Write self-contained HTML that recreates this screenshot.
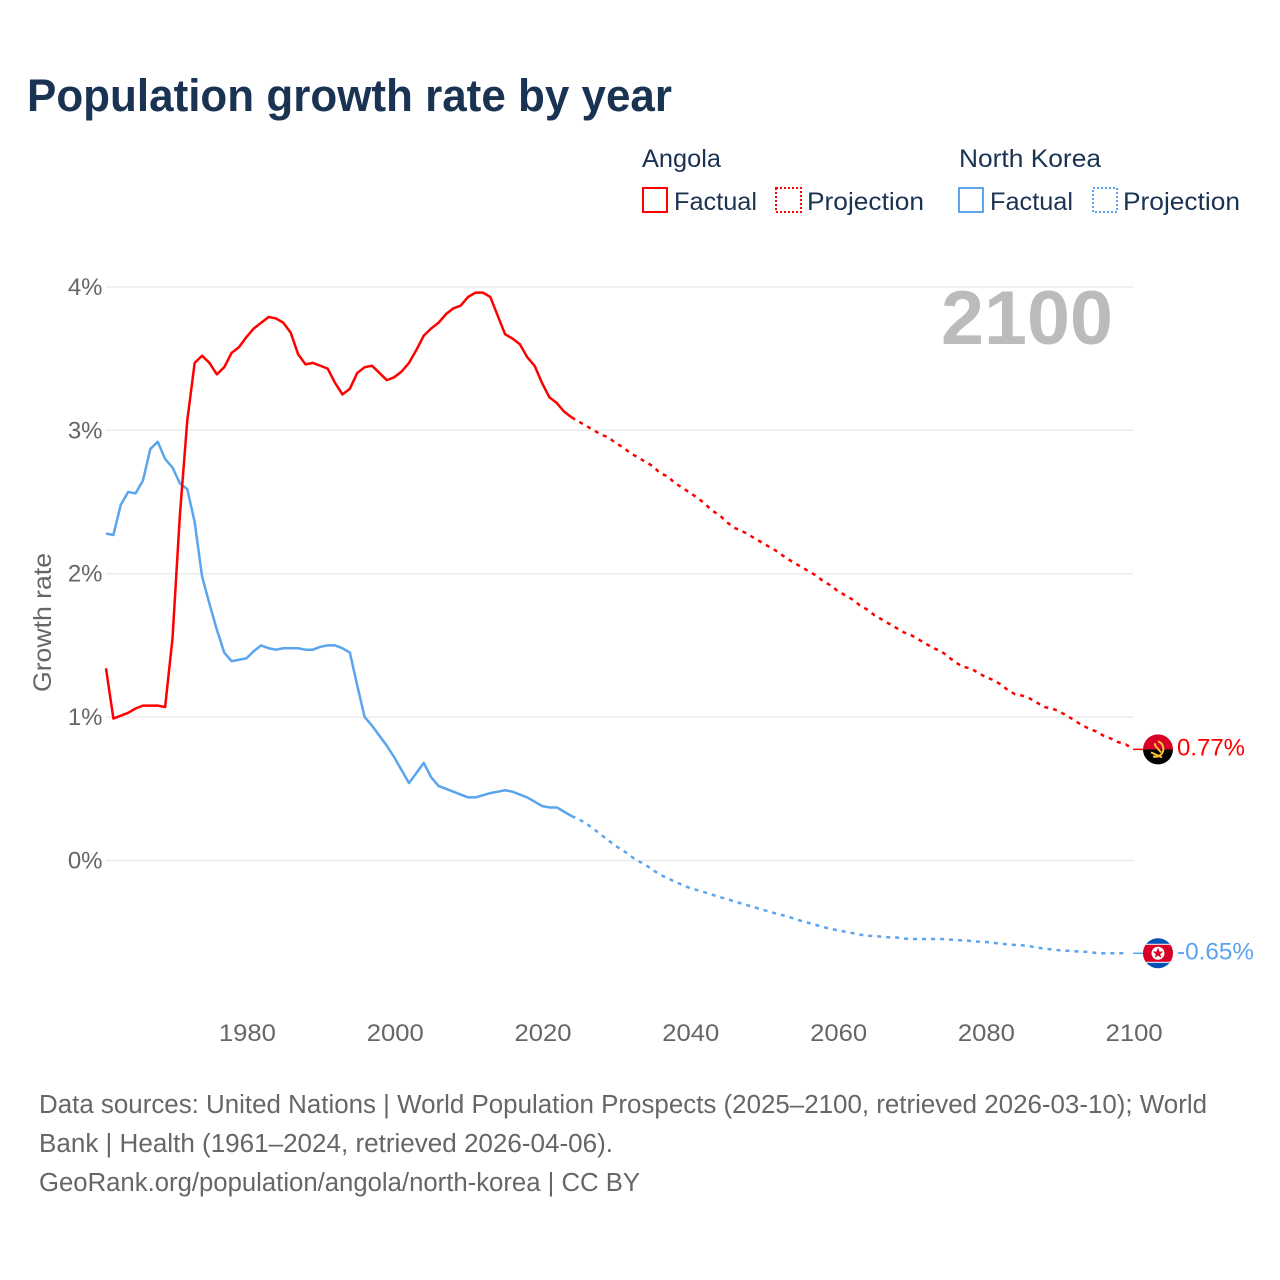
<!DOCTYPE html>
<html lang="en">
<head>
<meta charset="utf-8">
<title>Population growth rate by year</title>
<style>
html,body{margin:0;padding:0;background:#fff;width:1280px;height:1280px;overflow:hidden}
svg{display:block;font-family:"Liberation Sans",sans-serif}
</style>
</head>
<body>
<svg id="chart" xmlns="http://www.w3.org/2000/svg" width="1280" height="1280" viewBox="0 0 1280 1280">
  <rect x="0" y="0" width="1280" height="1280" fill="#fff"/>
  <text x="27" y="111" font-size="45" font-weight="700" fill="#1a3352" textLength="645" lengthAdjust="spacingAndGlyphs">Population growth rate by year</text>

  <g font-size="25" fill="#1a3352">
    <text x="642" y="167" textLength="79" lengthAdjust="spacingAndGlyphs">Angola</text>
    <text x="959" y="167" textLength="142" lengthAdjust="spacingAndGlyphs">North Korea</text>
    <rect x="643" y="188" width="24" height="24" fill="none" stroke="#ff0000" stroke-width="2"/>
    <text x="674" y="210" textLength="83" lengthAdjust="spacingAndGlyphs">Factual</text>
    <rect x="776" y="188" width="25" height="24" fill="none" stroke="#ff0000" stroke-width="2" stroke-dasharray="2 2"/>
    <text x="807" y="210" textLength="117" lengthAdjust="spacingAndGlyphs">Projection</text>
    <rect x="959" y="188" width="24" height="24" fill="none" stroke="#5ba4ee" stroke-width="2"/>
    <text x="990" y="210" textLength="83" lengthAdjust="spacingAndGlyphs">Factual</text>
    <rect x="1093" y="188" width="24" height="24" fill="none" stroke="#5ba4ee" stroke-width="2" stroke-dasharray="2 2"/>
    <text x="1123" y="210" textLength="117" lengthAdjust="spacingAndGlyphs">Projection</text>
  </g>

  <g id="grid"></g>
  <g id="yticks" font-size="24" fill="#666666" text-anchor="end"></g>
  <g id="xticks" font-size="24" fill="#666666" text-anchor="middle"></g>
  <text transform="translate(51,622.5) rotate(-90)" text-anchor="middle" font-size="25" fill="#666666" textLength="139" lengthAdjust="spacingAndGlyphs">Growth rate</text>
  <text x="941" y="344" font-size="76" font-weight="700" fill="#bbbbbb" textLength="172" lengthAdjust="spacingAndGlyphs">2100</text>

  <g id="series"></g>
  <g id="ends"></g>

  <g font-size="25.5" fill="#666666">
    <text x="39" y="1113" textLength="1168" lengthAdjust="spacingAndGlyphs">Data sources: United Nations | World Population Prospects (2025–2100, retrieved 2026-03-10); World</text>
    <text x="39" y="1152" textLength="574" lengthAdjust="spacingAndGlyphs">Bank | Health (1961–2024, retrieved 2026-04-06).</text>
    <text x="39" y="1191" textLength="601" lengthAdjust="spacingAndGlyphs">GeoRank.org/population/angola/north-korea | CC BY</text>
  </g>
</svg>
<script>
var firstYear = 1961;
var lastYear = 2100;
var projectionStartYear = 2024;

var xTickYears = [1980, 2000, 2020, 2040, 2060, 2080, 2100];
var yTickValues = [0, 1, 2, 3, 4];

var angolaFactual = [1.34,0.99,1.01,1.03,1.06,1.08,1.08,1.08,1.07,1.55,2.41,3.07,3.47,3.52,3.47,3.39,3.44,3.54,3.58,3.65,3.71,3.75,3.79,3.78,3.75,3.68,3.53,3.46,3.47,3.45,3.43,3.33,3.25,3.29,3.40,3.44,3.45,3.40,3.35,3.37,3.41,3.47,3.56,3.66,3.71,3.75,3.81,3.85,3.87,3.93,3.96,3.96,3.93,3.80,3.67,3.64,3.60,3.51,3.45,3.33,3.23,3.19,3.13,3.09];

var angolaProjection = [3.09,3.06,3.03,3.00,2.97,2.95,2.91,2.88,2.84,2.81,2.78,2.75,2.70,2.68,2.63,2.60,2.565,2.53,2.49,2.44,2.41,2.36,2.32,2.30,2.27,2.24,2.21,2.18,2.15,2.11,2.08,2.05,2.02,1.99,1.95,1.92,1.88,1.85,1.82,1.78,1.75,1.71,1.68,1.65,1.62,1.59,1.57,1.54,1.51,1.48,1.46,1.42,1.38,1.35,1.34,1.31,1.28,1.26,1.23,1.19,1.16,1.15,1.13,1.10,1.07,1.06,1.04,1.01,0.98,0.945,0.92,0.90,0.87,0.85,0.825,0.81,0.775];

var koreaFactual = [2.28,2.27,2.48,2.57,2.56,2.65,2.87,2.92,2.80,2.74,2.63,2.59,2.36,1.98,1.79,1.61,1.45,1.39,1.40,1.41,1.46,1.50,1.48,1.47,1.48,1.48,1.48,1.47,1.47,1.49,1.50,1.50,1.48,1.45,1.22,1.00,0.94,0.87,0.80,0.72,0.63,0.54,0.61,0.68,0.58,0.52,0.50,0.48,0.46,0.44,0.44,0.455,0.47,0.48,0.49,0.48,0.46,0.44,0.41,0.38,0.37,0.37,0.34,0.31];

var koreaProjection = [0.31,0.287,0.257,0.22,0.18,0.14,0.10,0.07,0.03,-0.003,-0.03,-0.066,-0.10,-0.124,-0.148,-0.17,-0.192,-0.206,-0.222,-0.238,-0.255,-0.268,-0.285,-0.30,-0.315,-0.33,-0.345,-0.36,-0.375,-0.387,-0.403,-0.42,-0.434,-0.448,-0.464,-0.475,-0.487,-0.496,-0.506,-0.517,-0.524,-0.527,-0.531,-0.536,-0.537,-0.545,-0.547,-0.547,-0.547,-0.547,-0.547,-0.55,-0.556,-0.556,-0.561,-0.566,-0.568,-0.573,-0.58,-0.585,-0.589,-0.591,-0.598,-0.607,-0.615,-0.62,-0.626,-0.629,-0.633,-0.636,-0.638,-0.645,-0.647,-0.647,-0.647,-0.647];

var endLabels = ["0.77%", "-0.65%"];

var NS = "http://www.w3.org/2000/svg";
function xScale(year) { return 106 + (year - firstYear) * (1133.2 - 106) / (lastYear - firstYear); }
function yScale(v) { return 860.5 - v * 143.4; }
function node(tag, parent) { var n = document.createElementNS(NS, tag); parent.appendChild(n); return n; }
function pathFrom(values, startYear) {
  return values.map(function (v, i) {
    return (i ? "L" : "M") + xScale(startYear + i).toFixed(2) + " " + yScale(v).toFixed(2);
  }).join("");
}

var gridG = document.getElementById("grid");
var yG = document.getElementById("yticks");
yTickValues.forEach(function (v) {
  var l = node("line", gridG);
  
  
  l.setAttribute("x1", xScale(firstYear));
  l.setAttribute("x2", xScale(lastYear));
  l.setAttribute("y1", yScale(v));
  l.setAttribute("y2", yScale(v));
  l.setAttribute("stroke", "#ebebeb");
  l.setAttribute("stroke-width", "1.5");
  var t = node("text", yG);
  
  
  t.setAttribute("x", 102.5);
  t.setAttribute("y", yScale(v) + 8);
  t.textContent = v + "%";
});

var xG = document.getElementById("xticks");
xTickYears.forEach(function (y) {
  var t = node("text", xG);
  
  
  t.setAttribute("x", xScale(y) + 1);
  t.setAttribute("y", 1041);
  t.setAttribute("textLength", "57");
  t.setAttribute("lengthAdjust", "spacingAndGlyphs");
  t.textContent = y;
});

var seriesG = document.getElementById("series");
function drawLine(name, values, startYear, color, dash) {
  var p = node("path", seriesG);
  
  
  p.setAttribute("d", pathFrom(values, startYear));
  p.setAttribute("fill", "none");
  p.setAttribute("stroke", color);
  p.setAttribute("stroke-width", "2.5");
  p.setAttribute("stroke-linejoin", "round");
  if (dash) p.setAttribute("stroke-dasharray", dash);
}
var RED = "#ff0000", BLUE = "#5ba4ee";
drawLine("line-korea-factual", koreaFactual, firstYear, BLUE);
drawLine("line-korea-projection", koreaProjection, projectionStartYear, BLUE, "4 5");
drawLine("line-angola-factual", angolaFactual, firstYear, RED);
drawLine("line-angola-projection", angolaProjection, projectionStartYear, RED, "4 5");

var endsG = document.getElementById("ends");
function drawEnd(key, value, color, labelText, drawFlag) {
  var y = yScale(value), x = xScale(lastYear), cx = 1158;
  var lead = node("line", endsG);
  
  
  lead.setAttribute("x1", x);
  lead.setAttribute("x2", cx - 15);
  lead.setAttribute("y1", y);
  lead.setAttribute("y2", y);
  lead.setAttribute("stroke", color);
  lead.setAttribute("stroke-width", "1.5");
  var g = node("g", endsG);
  
  
  g.setAttribute("transform", "translate(" + cx + " " + y + ")");
  var clip = node("clipPath", g);
  clip.setAttribute("id", "clip-" + key);
  var cc = node("circle", clip);
  cc.setAttribute("r", "15");
  var inner = node("g", g);
  inner.setAttribute("clip-path", "url(#clip-" + key + ")");
  inner.innerHTML = drawFlag;
  var t = node("text", endsG);
  
  
  t.setAttribute("x", 1177);
  t.setAttribute("y", y + 6);
  t.setAttribute("font-size", "24");
  t.setAttribute("fill", color);
  t.setAttribute("textLength", labelText.charAt(0) === "-" ? "77" : "68");
  t.setAttribute("lengthAdjust", "spacingAndGlyphs");
  t.textContent = labelText;
}
var angolaFlag =
  '<rect x="-16" y="-16" width="32" height="16" fill="#d80027"/>' +
  '<rect x="-16" y="0" width="32" height="16" fill="#000"/>' +
  '<path d="M0 -8 A7.5 7.5 0 1 1 -5 7" fill="none" stroke="#ffc33a" stroke-width="2"/>' +
  '<path d="M-7 3 L4 8" stroke="#ffc33a" stroke-width="2"/>' +
  '<path d="M-3 -4 L3 3" stroke="#ffc33a" stroke-width="2"/>' +
  '<circle cx="-3" cy="-5" r="1.3" fill="#ffc33a"/>';
var koreaFlag =
  '<rect x="-16" y="-16" width="32" height="32" fill="#0052b4"/>' +
  '<rect x="-16" y="-9.5" width="32" height="19" fill="#fff"/>' +
  '<rect x="-16" y="-8.5" width="32" height="17" fill="#d80027"/>' +
  '<circle cx="0" cy="0" r="6.5" fill="#fff"/>' +
  '<polygon points="0,-5.6 1.4,-1.8 5.3,-1.7 2.2,0.7 3.3,4.5 0,2.3 -3.3,4.5 -2.2,0.7 -5.3,-1.7 -1.4,-1.8" fill="#d80027"/>';
drawEnd("korea", koreaProjection[koreaProjection.length - 1], BLUE, endLabels[1], koreaFlag);
drawEnd("angola", angolaProjection[angolaProjection.length - 1], RED, endLabels[0], angolaFlag);
</script>
</body>
</html>
